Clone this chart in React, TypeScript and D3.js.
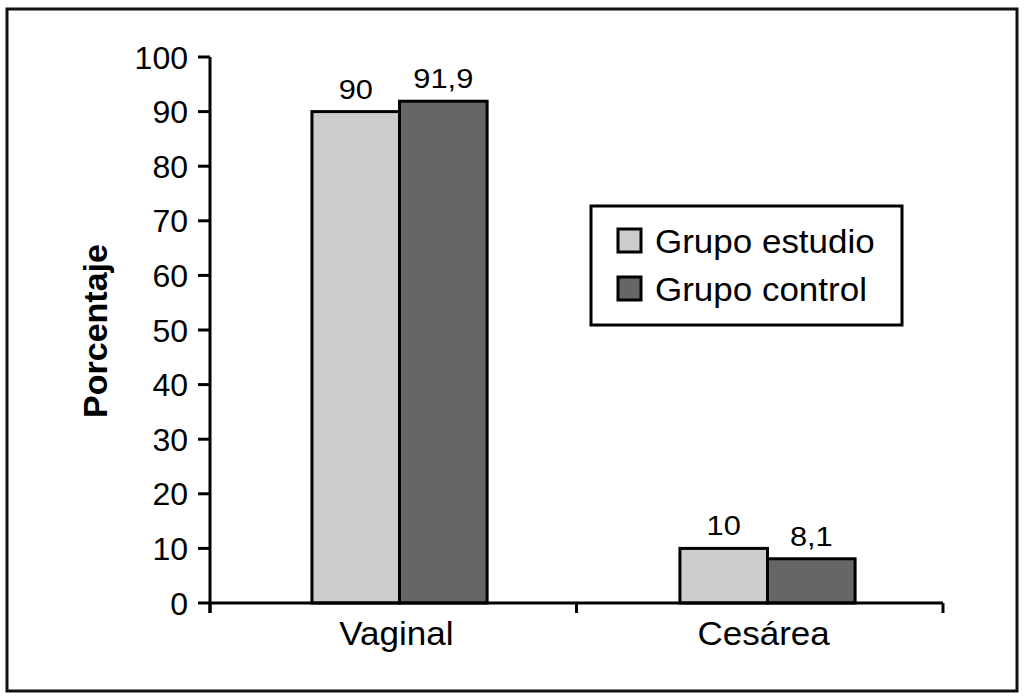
import React from "react";
import * as d3 from "d3";

const categories = ["Vaginal", "Cesárea"];
const seriesNames = ["Grupo estudio", "Grupo control"];
const estudio = [90, 10];
const control = [91.9, 8.1];
const valueLabels = [["90", "10"], ["91,9", "8,1"]];
const yTicks = [0, 10, 20, 30, 40, 50, 60, 70, 80, 90, 100];
const colors = ["#cccccc", "#666666"];

function T(props: { x: number; y: number; sx: number; size: number; anchor?: string; weight?: string; children: React.ReactNode; dy?: string }) {
  return (
    <text transform={`translate(${props.x},${props.y}) scale(${props.sx},1)`} dy={props.dy}
      textAnchor={props.anchor || "start"} fontSize={props.size} fontWeight={props.weight} fill="#000">
      {props.children}
    </text>
  );
}

export default function App() {
  const W = 1024, H = 698;
  const x0 = 210, x1 = 943, yTop = 57, yBot = 603;
  const y = d3.scaleLinear().domain([0, 100]).range([yBot, yTop]);
  const xb = d3.scaleBand<string>().domain(categories).range([x0, x1])
    .paddingInner(0.524).paddingOuter(0.258).align(0.537);
  const xs = d3.scaleBand<string>().domain(seriesNames).range([0, xb.bandwidth()]);
  const xAxisBand = d3.scaleBand<string>().domain(categories).range([x0, x1]);
  const series = [estudio, control];
  const font = "'Liberation Sans', Arial, Helvetica, sans-serif";
  const tickPositions = [x0, (x0 + x1) / 2, x1];
  return (
    <svg width={W} height={H} style={{ position: "absolute", left: 0, top: 0 }} fontFamily={font}>
      <rect x={0} y={0} width={W} height={H} fill="#fff" />
      <rect x={7} y={9} width={1010} height={682} fill="none" stroke="#111" strokeWidth={3} />
      {categories.map((c, ci) =>
        series.map((s, si) => (
          <rect key={c + si} x={(xb(c) as number) + (xs(seriesNames[si]) as number)}
            y={y(s[ci])} width={xs.bandwidth()} height={yBot - y(s[ci])}
            fill={colors[si]} stroke="#000" strokeWidth={3} />
        ))
      )}
      {categories.map((c, ci) =>
        series.map((s, si) => (
          <T key={"l" + c + si} x={(xb(c) as number) + (xs(seriesNames[si]) as number) + xs.bandwidth() / 2}
            y={y(s[ci]) - 13} sx={1.1} size={28} anchor="middle">{valueLabels[si][ci]}</T>
        ))
      )}
      <line x1={x0} y1={yTop} x2={x0} y2={yBot + 10} stroke="#000" strokeWidth={3} />
      {yTicks.map(t => (
        <g key={t}>
          <line x1={x0 - 12} x2={x0} y1={y(t)} y2={y(t)} stroke="#000" strokeWidth={3} />
          <T x={x0 - 22} y={y(t)} dy="0.36em" sx={1} size={32} anchor="end">{t}</T>
        </g>
      ))}
      <line x1={x0} y1={yBot} x2={x1} y2={yBot} stroke="#000" strokeWidth={3} />
      {tickPositions.map((p, i) => (
        <line key={i} x1={p} x2={p} y1={yBot} y2={yBot + 10} stroke="#000" strokeWidth={3} />
      ))}
      {categories.map(c => {
        const barCenter = (xb(c) as number) + xb.bandwidth() / 2;
        const axisCenter = (xAxisBand(c) as number) + xAxisBand.bandwidth() / 2;
        return (
          <T key={c} x={(barCenter + axisCenter) / 2} y={645} sx={1.03} size={34} anchor="middle">{c}</T>
        );
      })}
      <text transform={`translate(107,${(yTop + yBot) / 2 + 1}) rotate(-90)`} textAnchor="middle"
        fontSize={34} fontWeight="bold" fill="#000">Porcentaje</text>
      <rect x={591} y={206} width={311} height={119} fill="#fff" stroke="#000" strokeWidth={3} />
      {seriesNames.map((n, i) => (
        <g key={n}>
          <rect x={618} y={229 + i * 48} width={23} height={23} fill={colors[i]} stroke="#000" strokeWidth={3} />
          <T x={655} y={253 + i * 48} sx={1.06} size={33}>{n}</T>
        </g>
      ))}
    </svg>
  );
}
